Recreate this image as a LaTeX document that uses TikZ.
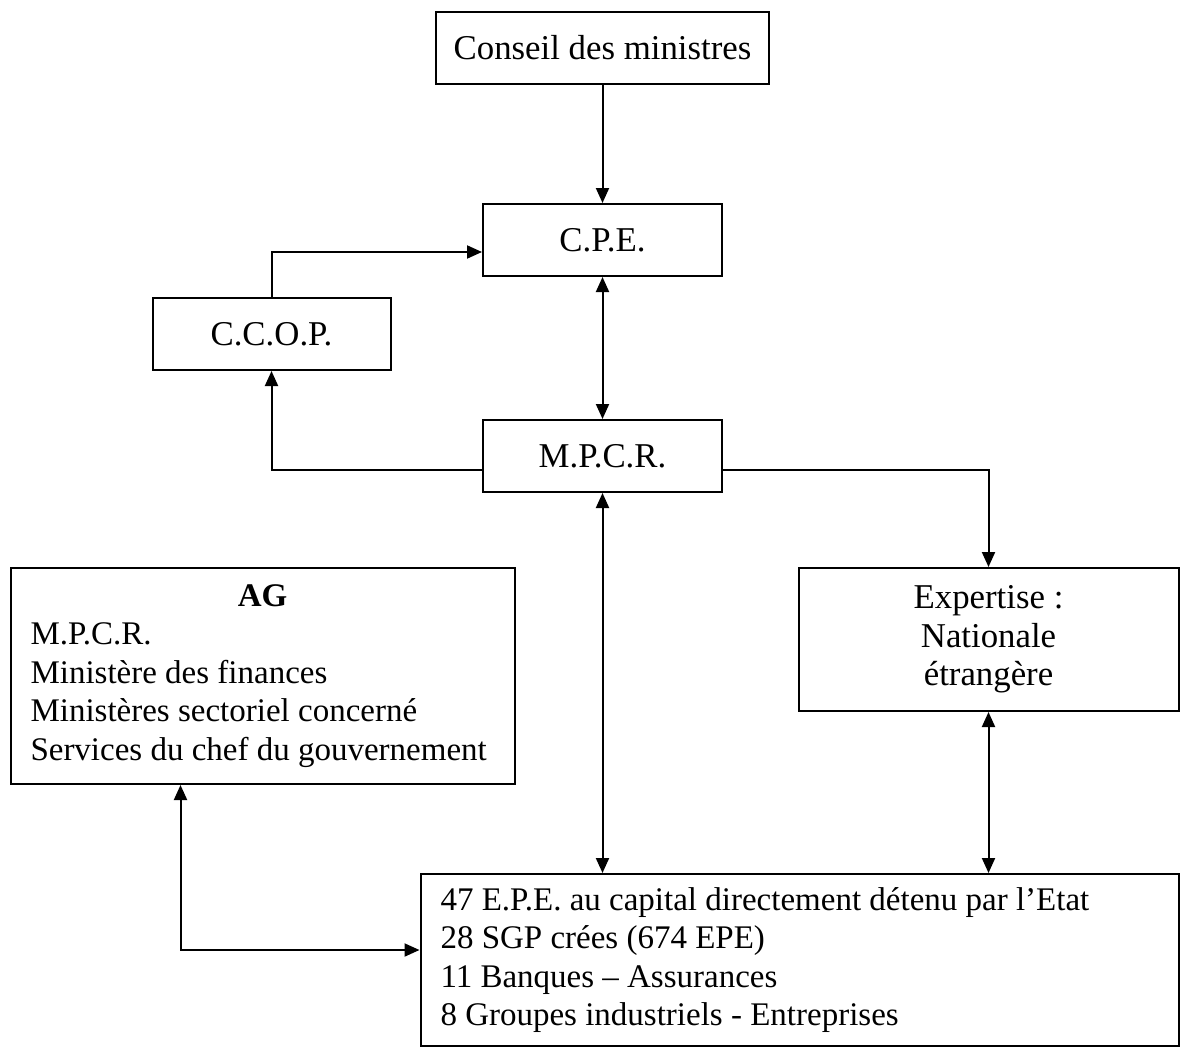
\documentclass[tikz,border=0pt]{standalone}
\usepackage{fontspec}
\setmainfont{Liberation Serif}
\usetikzlibrary{arrows.meta, positioning}

\begin{document}
\begin{tikzpicture}[node distance=1cm,on grid,>={Triangle[length=7.5pt,width=6.5pt]},
      line width=1pt,
      box/.style={draw,line width=1pt,font=\fontsize{17.4}{19.2}\selectfont,inner sep=5pt},
      listbox/.style={box,font=\fontsize{16.5}{19.2}\selectfont,align=flush left,text width=#1}]
      \useasboundingbox (0,0) rectangle (591pt,-524.5pt);
      \node[box, minimum width=166.5pt, minimum height=36pt] (conseil) at (301.25pt,-24pt) {Conseil des ministres};
      \node[box, minimum width=119.5pt, minimum height=36pt] (cpe) [below=96pt of conseil] {C.P.E.};
      \node[box, minimum width=119.5pt, minimum height=36pt] (mpcr) [below=108pt of cpe] {M.P.C.R.};
      \node[box, minimum width=119pt, minimum height=36pt] (ccop) [below left=47pt and 165.5pt of cpe] {C.C.O.P.};
      \node[listbox=232pt, inner xsep=10pt, minimum height=108pt] (ag) [below left=110pt and 170pt of mpcr]
        {{\centering\textbf{AG}\par}M.P.C.R.\\ Ministère des finances\\ Ministères sectoriel concerné\\ Services du chef du gouvernement};
      \node[box, align=center, minimum width=190pt, minimum height=71.5pt] (expert) [below right=91.75pt and 193pt of mpcr]
        {Expertise :\\ Nationale\\ étrangère};
      \node[listbox=359pt, inner xsep=10pt, minimum height=86pt] (epe) [below right=252pt and 98.5pt of mpcr]
        {47 E.P.E. au capital directement détenu par l’Etat\\ 28 SGP crées (674 EPE)\\ 11 Banques -- Assurances\\ 8 Groupes industriels - Entreprises};
      \draw[->] (conseil) -- (cpe);
      \draw[<->] (cpe) -- (mpcr);
      \draw[->] (ccop.north) |- ([yshift=-6pt]cpe.west);
      \draw[->] ([yshift=-7pt]mpcr.west) -| (ccop.south);
      \draw[->] ([yshift=-7pt]mpcr.east) -| (expert.north);
      \draw[<->] (mpcr.south) -- (mpcr.south |- epe.north);
      \draw[<->] (expert.south) -- (expert.south |- epe.north);
      \draw[<->] ([xshift=-41pt]ag.south) |- ([yshift=5pt]epe.west);
\end{tikzpicture}
\end{document}
